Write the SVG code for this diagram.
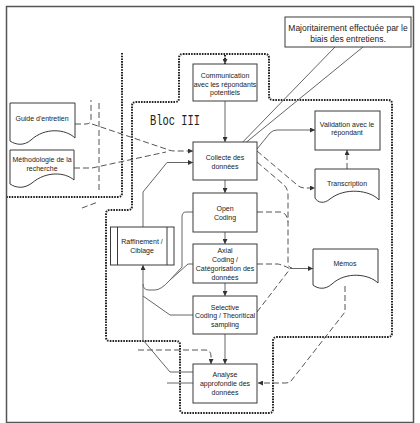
<svg xmlns="http://www.w3.org/2000/svg" width="420" height="423" viewBox="0 0 420 423">
<defs>
<marker id="ah" viewBox="0 0 6 6" refX="6" refY="3" markerWidth="6" markerHeight="5" markerUnits="userSpaceOnUse" orient="auto">
<path d="M0,0 L6,3 L0,6 z" fill="#333"/>
</marker>
</defs>
<style>
.box{fill:#fff;stroke:#3a3a3a;stroke-width:1}
.t{font-family:"Liberation Sans",Arial,sans-serif;font-size:7px;fill:#222;text-anchor:middle}
.ct{font-family:"Liberation Sans",Arial,sans-serif;font-size:8.5px;fill:#222;text-anchor:middle}
.dash{fill:none;stroke:#555;stroke-width:1;stroke-dasharray:6 3}
.sol{fill:none;stroke:#666;stroke-width:1}
.dot{fill:none;stroke:#222;stroke-width:2;stroke-dasharray:1.6 1.1}
.frame{fill:none;stroke:#555;stroke-width:1.5}
</style>
<rect width="420" height="423" fill="#fff"/>
<rect class="frame" x="6.5" y="6.5" width="407" height="416"/>

<g id="blocks">
<path class="dot" d="M183,54 H265 Q269,54 269,58 V96 Q269,100 273,100 H388 Q392,100 392,104 V333 Q392,337 388,337 H277 Q273,337 273,341 V409 Q273,413 269,413 H184 Q180,413 180,409 V345 Q180,341 176,341 H110 Q106,341 106,337 V214 Q106,210 110,210 H128 Q132,210 132,206 V106 Q132,102 136,102 H175 Q179,102 179,98 V58 Q179,54 183,54 Z"/>
<path class="dot" d="M122,53 V193 Q122,197 118,197 H7"/>
<text x="150" y="125" font-family="Liberation Mono,Courier New,monospace" font-size="14" fill="#222" textLength="50" lengthAdjust="spacingAndGlyphs">Bloc III</text>
</g>

<g id="connectors">
<line class="dot" x1="225" y1="55" x2="225" y2="64" marker-end="url(#ah)"/>
<path class="sol" d="M335,47 L236,149"/>
<path class="sol" d="M363,47 L238,149"/>
<line class="sol" x1="225" y1="101" x2="225" y2="142" marker-end="url(#ah)"/>
<line class="sol" x1="225" y1="180" x2="225" y2="193" marker-end="url(#ah)"/>
<line class="sol" x1="225" y1="232" x2="225" y2="244" marker-end="url(#ah)"/>
<line class="sol" x1="225" y1="283" x2="225" y2="296" marker-end="url(#ah)"/>
<line class="sol" x1="225" y1="334" x2="225" y2="364" marker-end="url(#ah)"/>
<path class="sol" d="M257,149 L270,133 Q273,130 277,130 H315" marker-end="url(#ah)"/>
<path class="dash" d="M257,151 L296,184 Q300,188 305,188 H315" marker-end="url(#ah)"/>
<line class="dash" x1="347" y1="169" x2="347" y2="150" marker-end="url(#ah)"/>
<path class="dash" d="M257,162 L284,185 Q288,189 288,195 V262 Q288,268 292,268"/>
<path class="dash" d="M257,212 H281 Q287,213 288,222"/>
<path class="dash" d="M257,264 H278 Q286,266 290,269"/>
<path class="dash" d="M257,312 L290,269"/>
<line class="sol" x1="290" y1="268.5" x2="313" y2="268.5" marker-end="url(#ah)"/>
<path class="dash" d="M345,286 V312 L291,381 Q289,383 285,383 H258" marker-end="url(#ah)"/>
<path class="dash" d="M75,124 H86 Q91,124 91,119 V100"/>
<line class="dash" x1="99" y1="103" x2="99" y2="193"/>
<path class="dash" d="M92,124 L166,149 Q170,151 175,151 H193" marker-end="url(#ah)"/>
<path class="dash" d="M74,168 H92 L166,152"/>
<line class="dash" x1="82" y1="208" x2="98" y2="202"/>
<path class="sol" d="M143,227 V192 L167,162.5 H193" marker-end="url(#ah)"/>
<path class="sol" d="M193,212 H186 Q182,212 182,217 V267 L170,280"/>
<path class="sol" d="M193,264 H188 L170,280 Q161,290 155,290 H149 Q143,290 143,284"/>
<path class="sol" d="M193,315 H170 L143,296"/>
<path class="sol" d="M193,372 H170 L143,340 V265" marker-end="url(#ah)"/>
<line class="sol" x1="167" y1="383" x2="193" y2="383"/>
<path class="dash" d="M138,350 H205 Q211,350 211,356 V364" marker-end="url(#ah)"/>
</g>

<g id="callout">
<rect class="box" x="285" y="17" width="126" height="30"/>
<text class="ct" x="348" y="31">Majoritairement effectuée par le</text>
<text class="ct" x="348" y="42">biais des entretiens.</text>
</g>

<g id="communication">
<rect class="box" x="193" y="64" width="64" height="37"/>
<text class="t" x="225" y="77.5">Communication</text>
<text class="t" x="225" y="86.5">avec les répondants</text>
<text class="t" x="225" y="95">potentiels</text>
</g>

<g id="collecte">
<rect class="box" x="193" y="142" width="64" height="38"/>
<text class="t" x="225" y="159.5">Collecte des</text>
<text class="t" x="225" y="168.5">données</text>
</g>

<g id="open">
<rect class="box" x="193" y="193" width="64" height="39"/>
<text class="t" x="225" y="210.5">Open</text>
<text class="t" x="225" y="219.5">Coding</text>
</g>

<g id="axial">
<rect class="box" x="193" y="244" width="64" height="39"/>
<text class="t" x="225" y="252.5">Axial</text>
<text class="t" x="225" y="261.5">Coding /</text>
<text class="t" x="225" y="270.5">Catégorisation des</text>
<text class="t" x="225" y="279.5">données</text>
</g>

<g id="selective">
<rect class="box" x="193" y="296" width="64" height="38"/>
<text class="t" x="225" y="309.5">Selective</text>
<text class="t" x="225" y="318">Coding / Theoritical</text>
<text class="t" x="225" y="326.5">sampling</text>
</g>

<g id="analyse">
<rect class="box" x="193" y="364" width="64" height="39"/>
<text class="t" x="225" y="376.5">Analyse</text>
<text class="t" x="225" y="385.5">approfondie des</text>
<text class="t" x="225" y="394.5">données</text>
</g>

<g id="raffinement">
<rect class="box" x="110.5" y="227" width="63.5" height="38"/>
<line class="sol" x1="117.5" y1="227" x2="117.5" y2="265" style="stroke:#3a3a3a"/>
<line class="sol" x1="167" y1="227" x2="167" y2="265" style="stroke:#3a3a3a"/>
<text class="t" x="142" y="243.5">Raffinement /</text>
<text class="t" x="142" y="252.5">Ciblage</text>
</g>

<g id="validation">
<rect class="box" x="315" y="111" width="65" height="39"/>
<text class="t" x="347" y="126.5">Validation avec le</text>
<text class="t" x="347" y="135">répondant</text>
</g>

<g id="transcription">
<path class="box" d="M315,169 H379 V200 C370,190 345,187 330,199 C324,204 318,203 315,198 Z"/>
<text class="t" x="347" y="185.5">Transcription</text>
</g>

<g id="memos">
<path class="box" d="M313,249 H378 V283 C369,274 346,271 332,284 C325,290 318,289 313,285 Z"/>
<text class="t" x="345" y="265.5">Mémos</text>
</g>

<g id="guide">
<path class="box" d="M10,103 H75 V138 C66,129 45,127 31,140 C24,146 16,145 10,141 Z"/>
<text class="t" x="42" y="120.5">Guide d'entretien</text>
</g>

<g id="methodologie">
<path class="box" d="M10,150 H74 V180 C65,172 46,171 32,183 C24,189 16,188 10,184 Z"/>
<text class="t" x="42" y="161.5">Méthodologie de la</text>
<text class="t" x="42" y="170.5">recherche</text>
</g>
</svg>
